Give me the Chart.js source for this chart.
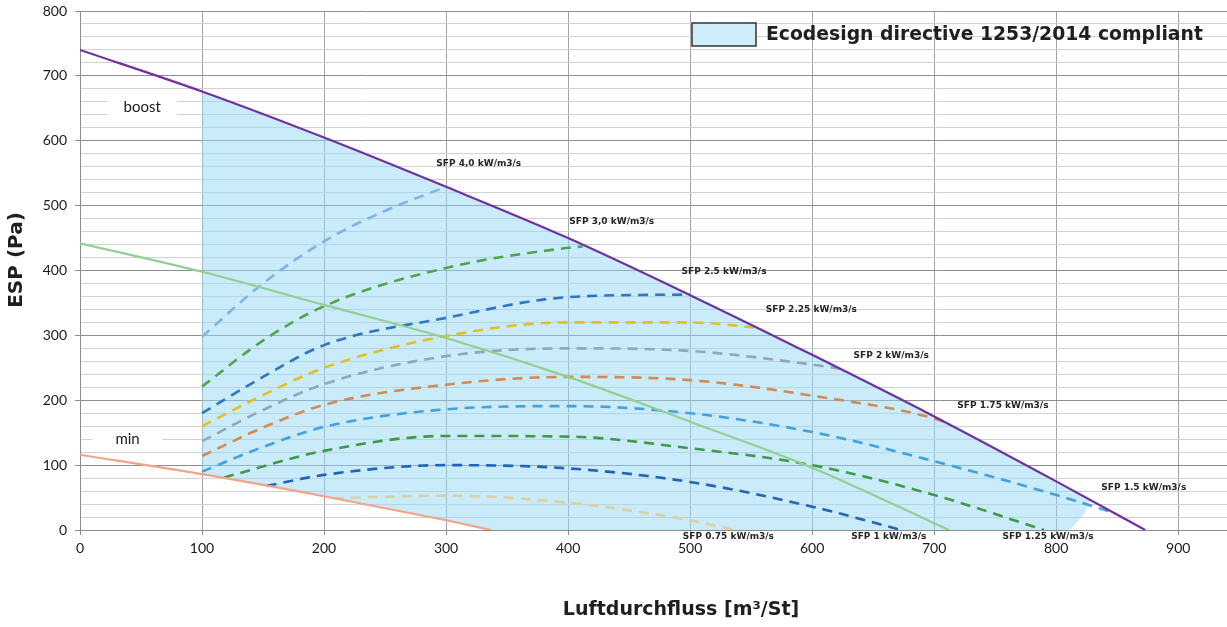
<!DOCTYPE html>
<html>
<head>
<meta charset="utf-8">
<script src="https://cdn.jsdelivr.net/npm/chart.js@4.4.0/dist/chart.umd.min.js"></script>
<style>
  html,body{margin:0;padding:0;background:#fff}
  #wrap{width:1227px;height:627px}
</style>
</head>
<body>
<div id="wrap"><canvas id="chart" width="1227" height="627"></canvas></div>
<script>
// fan curves (Pa over m3/h)
var boostX = [0, 100, 200, 300, 400, 500, 600, 700, 800, 873];
var boostY = [740, 676, 605, 529, 450, 362, 270, 175, 75, 0];
var minX = [0, 100, 200, 300, 337];
var minY = [116, 86, 52, 15, 0];
var midX = [0, 100, 200, 300, 400, 500, 600, 712];
var midY = [442, 398, 347, 296, 236, 167, 96, 0];

// ecodesign area, upper and lower edge
var areaTopX = [100, 200, 300, 400, 500, 600, 700, 800, 828];
var areaTopY = [676, 605, 529, 450, 362, 270, 175, 75, 45];
var areaBotX = [100, 200, 300, 337, 809, 818, 824, 828];
var areaBotY = [86, 52, 15, 0, 0, 14, 28, 45];

// SFP iso lines
var sfp40X = [100, 150, 200, 250, 300];
var sfp40Y = [298, 380, 445, 492, 529];
var sfp30X = [100, 150, 200, 300, 400, 412];
var sfp30Y = [221, 292, 345, 404, 435, 437];
var sfp25X = [100, 150, 200, 300, 400, 500];
var sfp25Y = [180, 236, 285, 327, 359, 363];
var sfp225X = [100, 150, 200, 300, 400, 500, 555];
var sfp225Y = [160, 208, 250, 299, 320, 320, 312];
var sfp20X = [100, 150, 200, 300, 400, 500, 600, 625];
var sfp20Y = [137, 185, 225, 268, 280, 276, 255, 248];
var sfp175X = [100, 150, 200, 300, 400, 500, 600, 700, 713];
var sfp175Y = [114, 158, 193, 224, 236, 231, 207, 172, 163];
var sfp15X = [100, 150, 200, 300, 400, 500, 600, 700, 800, 848];
var sfp15Y = [90, 128, 159, 186, 191, 180, 151, 106, 54, 26];
var sfp125X = [118, 200, 300, 400, 500, 600, 700, 790];
var sfp125Y = [81, 122, 145, 144, 126, 100, 54, 0];
var sfp10X = [153, 200, 300, 400, 500, 600, 673];
var sfp10Y = [68, 85, 100, 95, 74, 36, 0];
var sfp075X = [208, 300, 400, 500, 536];
var sfp075Y = [49, 53, 42, 15, 0];

var sfpText = ['SFP 4,0 kW/m3/s', 'SFP 3,0 kW/m3/s', 'SFP 2.5 kW/m3/s', 'SFP 2.25 kW/m3/s', 'SFP 2 kW/m3/s',
               'SFP 1.75 kW/m3/s', 'SFP 1.5 kW/m3/s', 'SFP 1.25 kW/m3/s', 'SFP 1 kW/m3/s', 'SFP 0.75 kW/m3/s'];
var sfpTextX = [292, 401, 493, 562, 634, 719, 837, 756, 632, 494];
var sfpTextY = [564, 475, 398, 339, 268, 191, 66, -11, -11, -11];

var curveText = ['boost', 'min'];
var curveTextX = [51, 39];
var curveTextY = [652, 140];

function pts(xs, ys){ return xs.map(function(x, i){ return {x: x, y: ys[i]}; }); }

function dashed(xs, ys, col){
  return { data: pts(xs, ys), borderColor: col, borderWidth: 2.6, borderDash: [10, 7],
           pointRadius: 0, showLine: true, fill: false, cubicInterpolationMode: 'monotone' };
}
function solid(xs, ys, col, w){
  return { data: pts(xs, ys), borderColor: col, borderWidth: w, pointRadius: 0,
           showLine: true, fill: false, cubicInterpolationMode: 'monotone' };
}

var AREA = 'rgba(150,216,244,0.5)';

var datasets = [
  solid(boostX, boostY, '#7030a0', 2.2),
  solid(minX, minY, '#f2a488', 2.2),
  solid(midX, midY, '#92d092', 2.2),
  dashed(sfp40X, sfp40Y, '#7fb5e4'),
  dashed(sfp30X, sfp30Y, '#4ea64e'),
  dashed(sfp25X, sfp25Y, '#2e76c6'),
  dashed(sfp225X, sfp225Y, '#e2c022'),
  dashed(sfp20X, sfp20Y, '#92a8b6'),
  dashed(sfp175X, sfp175Y, '#d48a52'),
  dashed(sfp15X, sfp15Y, '#45a0e0'),
  dashed(sfp125X, sfp125Y, '#3e9a4a'),
  dashed(sfp10X, sfp10Y, '#2264b6'),
  dashed(sfp075X, sfp075Y, '#dad0a2'),
  { data: pts(areaTopX, areaTopY), borderWidth: 0, borderColor: 'rgba(0,0,0,0)', backgroundColor: AREA,
    pointRadius: 0, showLine: true, fill: '+1', cubicInterpolationMode: 'monotone' },
  { data: pts(areaBotX, areaBotY), borderWidth: 0, borderColor: 'rgba(0,0,0,0)',
    pointRadius: 0, showLine: true, fill: false, cubicInterpolationMode: 'monotone' }
];

var textPlugin = {
  id: 'texts',
  afterDatasetsDraw: function(chart){
    var ctx = chart.ctx, xs = chart.scales.x, ys = chart.scales.y;
    ctx.save();
    // curve names with white box
    ctx.font = '15px Lato';
    ctx.textAlign = 'center'; ctx.textBaseline = 'middle';
    curveText.forEach(function(t, i){
      var px = xs.getPixelForValue(curveTextX[i]), py = ys.getPixelForValue(curveTextY[i]);
      ctx.fillStyle = '#fff';
      ctx.fillRect(px - 35, py - 11, 70, 22);
      ctx.fillStyle = '#1a1a1a';
      ctx.fillText(t, px, py);
    });
    // SFP labels
    ctx.font = 'bold 9px "DejaVu Sans"';
    ctx.textAlign = 'left';
    ctx.fillStyle = '#262626';
    sfpText.forEach(function(t, i){
      ctx.fillText(t, xs.getPixelForValue(sfpTextX[i]), ys.getPixelForValue(sfpTextY[i]));
    });
    // legend
    ctx.fillStyle = 'rgb(205,237,250)';
    ctx.fillRect(692, 23, 64, 23);
    ctx.strokeStyle = '#333'; ctx.lineWidth = 1.5;
    ctx.strokeRect(692, 23, 64, 23);
    ctx.fillStyle = '#1f1f1f';
    ctx.font = 'bold 18.8px "DejaVu Sans"';
    ctx.fillText('Ecodesign directive 1253/2014 compliant', 766, 35);
    // axis titles
    ctx.textAlign = 'center';
    ctx.font = 'bold 19px "DejaVu Sans"';
    ctx.fillText('Luftdurchfluss [m\u00b3/St]', 681, 610);
    ctx.translate(17, 260);
    ctx.rotate(-Math.PI / 2);
    ctx.font = 'bold 20px "DejaVu Sans"';
    ctx.fillText('ESP (Pa)', 0, 0);
    ctx.restore();
  }
};

new Chart(document.getElementById('chart'), {
  type: 'scatter',
  data: { datasets: datasets },
  plugins: [textPlugin],
  options: {
    responsive: false,
    animation: false,
    layout: { padding: { top: 11, right: 0, left: 0, bottom: 0 } },
    plugins: { legend: { display: false }, tooltip: { enabled: false },
               filler: { drawTime: 'beforeDatasetsDraw' } },
    scales: {
      x: {
        type: 'linear', min: 0, max: 940,
        afterBuildTicks: function(s){ s.ticks = s.ticks.filter(function(t){ return t.value % 100 === 0; }); },
        afterFit: function(s){ s.height = 97; s.paddingLeft = 0; s.paddingRight = 0; },
        ticks: { stepSize: 100, autoSkip: false, maxRotation: 0, padding: 5,
                 color: '#1a1a1a', font: { family: 'Lato', size: 14 } },
        grid: { color: '#a4a4a4', tickLength: 5, tickColor: '#8c8c8c' },
        border: { color: '#8c8c8c' }
      },
      y: {
        min: 0, max: 800,
        afterFit: function(s){ s.width = 80; s.paddingTop = 0; s.paddingBottom = 0; },
        ticks: { stepSize: 20, autoSkip: false, padding: 8, color: '#1a1a1a',
                 font: { family: 'Lato', size: 14 },
                 callback: function(v){ return v % 100 === 0 ? v : ''; } },
        grid: {
          color: function(c){ return c.tick && c.tick.value % 100 === 0 ? '#8e8e8e' : '#d2d2d2'; },
          tickColor: function(c){ return c.tick && c.tick.value % 100 === 0 ? '#8c8c8c' : 'rgba(0,0,0,0)'; },
          tickLength: 5
        },
        border: { color: '#8c8c8c' }
      }
    }
  }
});
</script>
</body>
</html>
